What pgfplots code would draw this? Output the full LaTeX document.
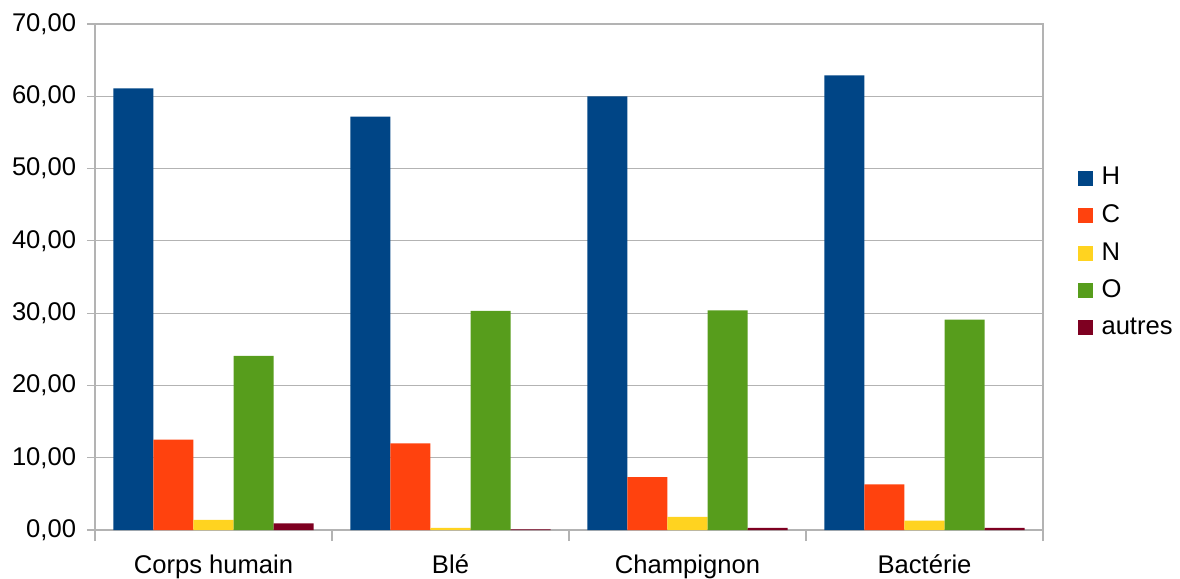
\documentclass[border=0pt]{standalone}
\usepackage{pgfplots}
\pgfplotsset{compat=1.18}
\usepackage{fontspec}
\setmainfont{Liberation Sans}

\definecolor{cH}{HTML}{004586}
\definecolor{cC}{HTML}{FF420E}
\definecolor{cN}{HTML}{FFD320}
\definecolor{cO}{HTML}{579D1C}
\definecolor{cA}{HTML}{7E0021}
\definecolor{gridgray}{HTML}{B3B3B3}

\begin{document}
\begin{tikzpicture}
\fontsize{12.8}{15}\selectfont
\begin{axis}[
  at={(0,0)}, anchor=south west,
  scale only axis,
  width=474pt, height=253pt,
  ybar=0pt,
  bar width=0.169,
  xmin=-0.5, xmax=3.5,
  ymin=0, ymax=70,
  ytick={0,10,...,70},
  xtick={0,1,2,3},
  xticklabels={Corps humain,Blé,Champignon,Bactérie},
  minor xtick={-0.5,0.5,1.5,2.5,3.5},
  major x tick style={draw=none},
  minor x tick style={gridgray},
  y tick style={gridgray},
  tick align=outside,
  tick pos=left,
  major tick length=4pt,
  minor tick length=5.5pt,
  ymajorgrids,
  grid style={gridgray, line width=0.6pt},
  axis line style={gridgray, line width=0.6pt},
  every tick/.style={line width=0.6pt},
  /pgf/number format/fixed,
  /pgf/number format/fixed zerofill,
  /pgf/number format/precision=2,
  /pgf/number format/use comma,
  /pgf/number format/assume math mode=true,
  ticklabel style={font=\fontsize{12.8}{15}\selectfont, text=black},
  xticklabel style={yshift=-4pt},
  yticklabel style={xshift=-1pt},
  legend style={draw=none, fill=none, at={(1.036,0.548)}, anchor=west,
    font=\fontsize{12.8}{15}\selectfont, row sep=4.0pt,
    inner xsep=0pt, inner ysep=0pt,
    /tikz/every odd column/.append style={column sep=2.5pt}},
  legend cell align=left,
  legend image code/.code={\fill[#1] (0pt,-3.75pt) rectangle (7.5pt,3.75pt);},
]
\addplot[fill=cH, draw=none, bar shift=-0.338] coordinates {(0,61.1) (1,57.2) (2,60.0) (3,62.9)};
\addplot[fill=cC, draw=none, bar shift=-0.169] coordinates {(0,12.5) (1,12.0) (2,7.3) (3,6.3)};
\addplot[fill=cN, draw=none, bar shift=0] coordinates {(0,1.4) (1,0.3) (2,1.8) (3,1.3)};
\addplot[fill=cO, draw=none, bar shift=0.169] coordinates {(0,24.1) (1,30.3) (2,30.4) (3,29.1)};
\addplot[fill=cA, draw=none, bar shift=0.338] coordinates {(0,0.9) (1,0.1) (2,0.3) (3,0.3)};
\legend{H,C,N,O,autres}
\end{axis}
\pgfresetboundingbox
\path[use as bounding box] (-47.5pt,-24.5pt) rectangle (542.5pt,265pt);
\end{tikzpicture}
\end{document}
